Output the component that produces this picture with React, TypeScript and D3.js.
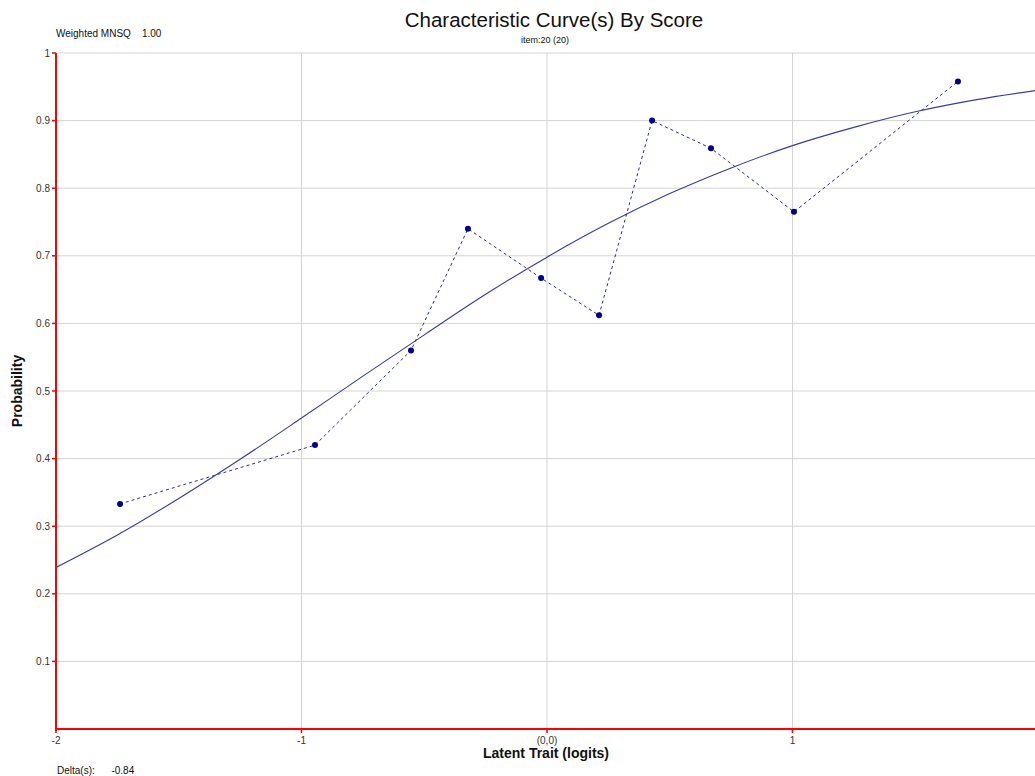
import React from "react";
import * as d3 from "d3";

const xTicks = [-2, -1, 0, 1];
const xTickLabels = ["-2", "-1", "(0,0)", "1"];
const yTicks = [0.1, 0.2, 0.3, 0.4, 0.5, 0.6, 0.7, 0.8, 0.9, 1];
const yTickLabels = ["0.1", "0.2", "0.3", "0.4", "0.5", "0.6", "0.7", "0.8", "0.9", "1"];

// model curve
const curveX = [-2, -1.75, -1.5, -1.25, -1, -0.75, -0.5, -0.25, 0, 0.25, 0.5, 0.75, 1, 1.25, 1.5, 1.75, 2];
const curveY = [0.239, 0.287, 0.341, 0.399, 0.46, 0.522, 0.583, 0.643, 0.698, 0.748, 0.792, 0.83, 0.863, 0.89, 0.913, 0.931, 0.945];

// observed points
const obsX = [-1.739, -0.945, -0.554, -0.322, -0.024, 0.212, 0.428, 0.668, 1.006, 1.674];
const obsY = [0.333, 0.42, 0.56, 0.74, 0.667, 0.612, 0.9, 0.859, 0.765, 0.958];

export default function App() {
  const W = 1035, H = 776;
  const x = d3.scaleLinear().domain([-2, 2]).range([56, 1038]);
  const y = d3.scaleLinear().domain([0, 1]).range([729, 53]);
  const line = d3.line<[number, number]>().x(d => x(d[0])).y(d => y(d[1]));
  const smooth = d3.line<[number, number]>().x(d => x(d[0])).y(d => y(d[1])).curve(d3.curveCatmullRom);
  const curvePts: [number, number][] = curveX.map((v, i) => [v, curveY[i]]);
  const obsPts: [number, number][] = obsX.map((v, i) => [v, obsY[i]]);
  const font = "Arial, 'Liberation Sans', sans-serif";
  return (
    <svg width={W} height={H} style={{ position: "absolute", left: 0, top: 0, background: "#fff" }} fontFamily={font}>
      <defs>
        <clipPath id="plot">
          <rect x={56} y={40} width={W - 56} height={689} />
        </clipPath>
      </defs>
      {/* grid */}
      {yTicks.map(t => (
        <line key={"gy" + t} x1={56} x2={W} y1={y(t)} y2={y(t)} stroke="#d4d4d4" strokeWidth={1} />
      ))}
      {xTicks.filter(t => t !== -2).map(t => (
        <line key={"gx" + t} x1={x(t)} x2={x(t)} y1={53} y2={729} stroke="#d4d4d4" strokeWidth={1} />
      ))}
      {/* curves */}
      <g clipPath="url(#plot)">
        <path d={smooth(curvePts) || ""} fill="none" stroke="#3a3aaa" strokeWidth={1.1} />
        <path d={line(obsPts) || ""} fill="none" stroke="#2a2a9a" strokeWidth={1} strokeDasharray="3,3" />
        {obsPts.map((p, i) => (
          <circle key={i} cx={x(p[0])} cy={y(p[1])} r={3} fill="#00008b" />
        ))}
      </g>
      {/* axes */}
      <line x1={56} x2={56} y1={53} y2={731} stroke="#ff0000" strokeWidth={2} />
      <line x1={55} x2={W} y1={729} y2={729} stroke="#ff0000" strokeWidth={2} />
      {yTicks.map((t, i) => (
        <g key={"yt" + t}>
          <line x1={52} x2={56} y1={y(t)} y2={y(t)} stroke="#ff0000" strokeWidth={1.5} />
          <text x={50} y={y(t)} dy="0.35em" textAnchor="end" fontSize={10} fill="#333">{yTickLabels[i]}</text>
        </g>
      ))}
      {xTicks.map((t, i) => (
        <g key={"xt" + t}>
          <line x1={x(t)} x2={x(t)} y1={729} y2={733} stroke="#ff0000" strokeWidth={1.5} />
          <text x={x(t)} y={744} textAnchor="middle" fontSize={10} fill="#333">{xTickLabels[i]}</text>
        </g>
      ))}
      {/* titles */}
      <text x={554} y={27} textAnchor="middle" fontSize={20.5} fill="#111">Characteristic Curve(s) By Score</text>
      <text x={545} y={43} textAnchor="middle" fontSize={9} fill="#111">item:20 (20)</text>
      <text x={56} y={37} fontSize={10} fill="#111" xmlSpace="preserve">Weighted MNSQ    1.00</text>
      <text x={57} y={774} fontSize={10} fill="#111" xmlSpace="preserve">Delta(s):      -0.84</text>
      <text x={546} y={758} textAnchor="middle" fontSize={14} fontWeight="bold" fill="#111">Latent Trait (logits)</text>
      <text transform="translate(22,391) rotate(-90)" textAnchor="middle" fontSize={14} fontWeight="bold" fill="#111">Probability</text>
    </svg>
  );
}
